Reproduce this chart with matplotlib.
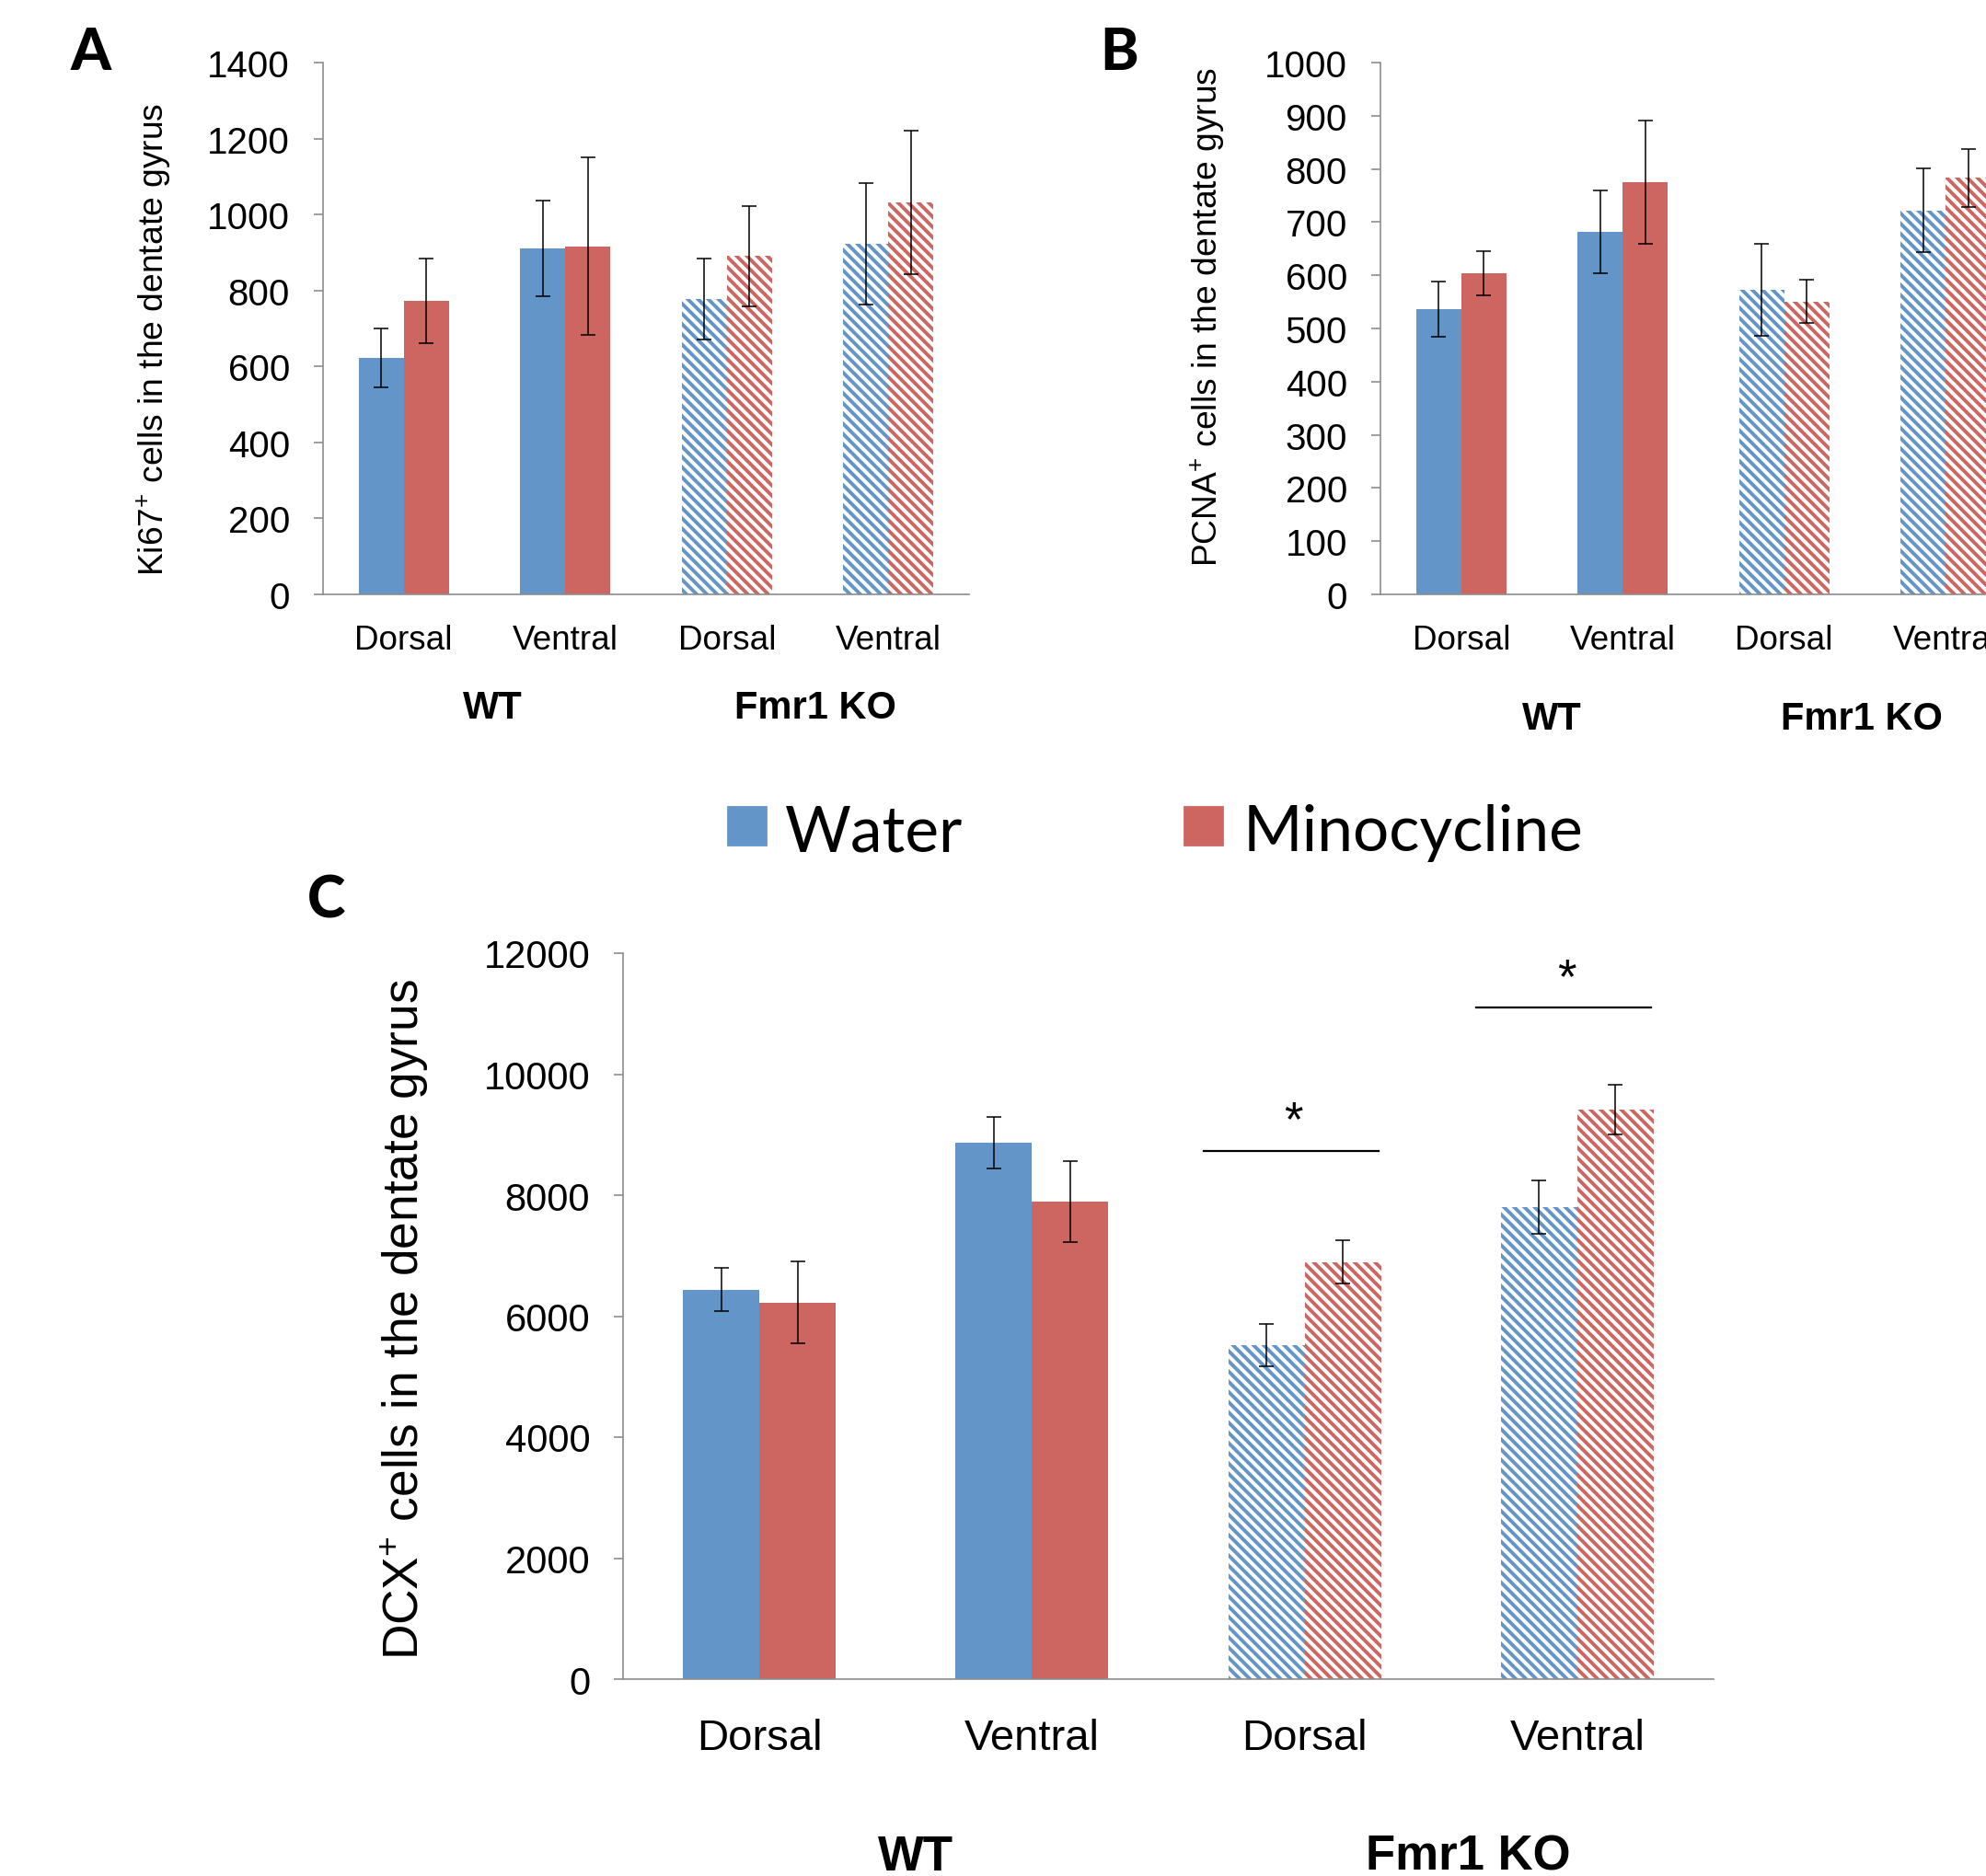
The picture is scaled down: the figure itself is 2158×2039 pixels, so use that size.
import matplotlib
matplotlib.use('Agg')
import matplotlib.pyplot as plt
from matplotlib.patches import Rectangle
from matplotlib.transforms import blended_transform_factory
import numpy as np

# ---------------- data ----------------
categories = ['Dorsal', 'Ventral', 'Dorsal', 'Ventral']
groups = ['WT', 'Fmr1 KO']
series = ['Water', 'Minocycline']

ki67_water = [623, 911, 778, 922]
ki67_water_err = [78, 126, 106, 160]
ki67_mino = [773, 916, 891, 1031]
ki67_mino_err = [112, 234, 132, 189]

pcna_water = [536, 682, 573, 722]
pcna_water_err = [52, 78, 86, 79]
pcna_mino = [604, 775, 551, 783]
pcna_mino_err = [42, 116, 40, 55]

dcx_water = [6438, 8865, 5520, 7799]
dcx_water_err = [360, 422, 348, 438]
dcx_mino = [6227, 7894, 6892, 9414]
dcx_mino_err = [675, 665, 358, 411]

dcx_sig_categories = [2, 3]
dcx_sig_heights = [8733, 11100]

# ---------------- style ----------------
plt.rcParams['font.family'] = ['Liberation Sans', 'DejaVu Sans']
plt.rcParams['mathtext.fontset'] = 'custom'
plt.rcParams['mathtext.rm'] = 'Liberation Sans'
plt.rcParams['mathtext.it'] = 'Liberation Sans:italic'
plt.rcParams['hatch.linewidth'] = 1.4

W, H = 2158, 2040
DPI = 200
fig = plt.figure(figsize=(W / DPI, H / DPI), dpi=DPI)

BLUE = '#6395C8'
RED = '#CD6660'
SPINE = '#8C8C8C'
HATCH = '\\' * 6


def px_axes(l, t, r, b):
    return fig.add_axes([l / W, 1 - b / H, (r - l) / W, (b - t) / H])


def draw_panel(ax, water, werr, mino, merr, ymax, ystep, ylabel,
               fs_tick, fs_cat, fs_group, fs_ylab, cat_pad, tick_pad,
               group_x, group_y, ylab_xy):
    x = np.arange(len(categories))
    w = 0.28
    for i in range(len(categories)):
        hatched = i >= 2
        for off, val, err, col in [(-w / 2, water[i], werr[i], BLUE),
                                   (w / 2, mino[i], merr[i], RED)]:
            if hatched:
                ax.bar(x[i] + off, val, w, facecolor='white', edgecolor=col,
                       hatch=HATCH, linewidth=0, zorder=2)
            else:
                ax.bar(x[i] + off, val, w, color=col, linewidth=0, zorder=2)
            ax.errorbar(x[i] + off, val, yerr=err, fmt='none', ecolor='black',
                        elinewidth=0.55, capsize=2.9, capthick=0.55, zorder=3)
    ax.set_xlim(-0.5, len(categories) - 0.5)
    ax.set_ylim(0, ymax)
    ax.set_yticks(np.arange(0, ymax + 1, ystep))
    ax.set_xticks(x)
    ax.set_xticklabels(categories, fontsize=fs_cat)
    ax.tick_params(axis='x', length=0, pad=cat_pad)
    ax.tick_params(axis='y', direction='out', length=3.5, width=0.6,
                   color=SPINE, labelsize=fs_tick, pad=tick_pad)
    for s in ['top', 'right']:
        ax.spines[s].set_visible(False)
    for s in ['left', 'bottom']:
        ax.spines[s].set_color(SPINE)
        ax.spines[s].set_linewidth(0.6)
    ax.set_ylabel(ylabel, fontsize=fs_ylab, va='center')
    ax.yaxis.set_label_coords(*ylab_xy)
    tr = blended_transform_factory(ax.transData, ax.transAxes)
    for gx, g in zip(group_x, groups):
        ax.text(gx, group_y, g, transform=tr, ha='center', va='center',
                fontsize=fs_group, fontweight='bold')


# Panel A
axA = px_axes(351, 69, 1053, 647)
draw_panel(axA, ki67_water, ki67_water_err, ki67_mino, ki67_mino_err,
           1400, 200, 'Ki67$^{+}$ cells in the dentate gyrus',
           14.5, 13.3, 15, 13.4, 11.5, 9.5, [0.55, 2.55], -0.212, (-0.262, 0.481))

# Panel B (extends beyond the right edge of the figure)
axB = px_axes(1500, 69, 2202, 647)
draw_panel(axB, pcna_water, pcna_water_err, pcna_mino, pcna_mino_err,
           1000, 100, 'PCNA$^{+}$ cells in the dentate gyrus',
           14.5, 13.3, 15, 13.4, 11.5, 9.5, [0.56, 2.48], -0.233, (-0.268, 0.524))

# Panel C
axC = px_axes(677, 1037, 1862, 1826)
draw_panel(axC, dcx_water, dcx_water_err, dcx_mino, dcx_mino_err,
           12000, 2000, 'DCX$^{+}$ cells in the dentate gyrus',
           15, 17, 19, 19.2, 15, 9.4, [0.574, 2.60], -0.244, (-0.2, 0.497))

for ci, h in zip(dcx_sig_categories, dcx_sig_heights):
    axC.plot([ci - 0.37, ci + 0.27], [h, h], color='black', lw=0.8, zorder=4)
    axC.text(ci - 0.04, h + 480, '*', ha='center', va='center', fontsize=19)

# Panel letters
for letter, (px, py) in zip(['A', 'B', 'C'], [(99, 58), (1216, 58), (355, 980)]):
    fig.text(px / W, 1 - py / H, letter, ha='center', va='center',
             fontsize=22.6, fontweight='black', family=['Lato', 'DejaVu Sans'])

# Legend
for (sx, tx), name, col in zip([(791, 853), (1287, 1351)], series, [BLUE, RED]):
    fig.patches.append(Rectangle((sx / W, 1 - (878 + 41) / H), 41 / W, 41 / H,
                                 transform=fig.transFigure, color=col))
    fig.text(tx / W, 1 - 906 / H, name, ha='left', va='center', fontsize=25,
             family=['Lato', 'DejaVu Sans'])

fig.savefig('out.png', dpi=DPI)
